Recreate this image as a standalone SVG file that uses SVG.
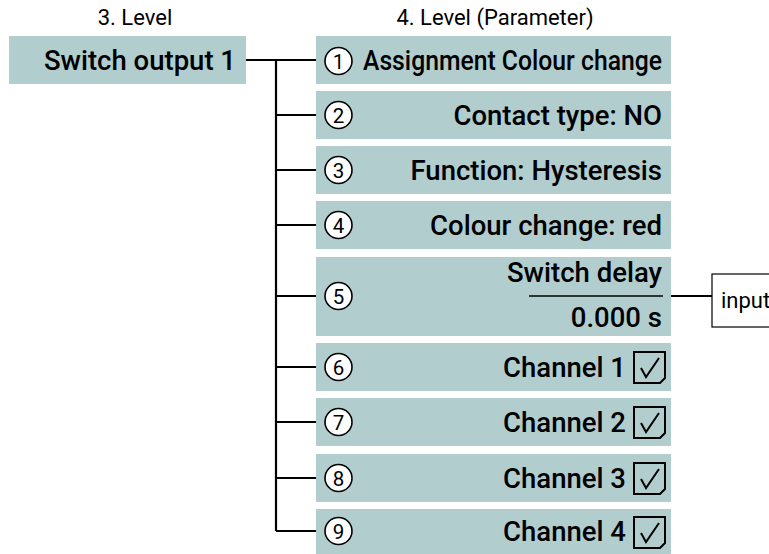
<svg xmlns="http://www.w3.org/2000/svg" width="769" height="554" viewBox="0 0 769 554">
<style>
.box{fill:#b1cdce}
.t{font-family:Roboto,"Liberation Sans",sans-serif;font-size:27.5px;font-weight:500;fill:#000}
.h{font-family:Roboto,"Liberation Sans",sans-serif;font-size:22px;fill:#000}
.n{font-family:Roboto,"Liberation Sans",sans-serif;font-size:20.5px;fill:#000;text-anchor:middle}
.c{fill:#fff;stroke:#000;stroke-width:1.6}
.ln{stroke:#000;stroke-width:2.2;fill:none}
.cb{fill:none;stroke:#000;stroke-width:2}
</style>
<defs>
<g id="chk">
<path class="cb" d="M0,0 H31 V26 L26,31 H0 Z"/>
<path class="cb" stroke-width="2.8" d="M7,16 L12,25 L25,6"/>
</g>
</defs>
<text class="h" x="135" y="25" text-anchor="middle">3. Level</text>
<text class="h" x="495" y="25" text-anchor="middle">4. Level (Parameter)</text>
<g id="connectors">
<path class="ln" d="M246,60 H316 M276,60 V531 M276,115 H316 M276,170 H316 M276,225 H316 M276,296 H316 M276,367 H316 M276,422 H316 M276,478 H316 M276,531 H316"/>
<path class="ln" d="M671,296 H712"/>
</g>
<g id="n0"><rect class="box" x="9" y="36" width="237" height="48"/><text class="t" x="236" y="70" text-anchor="end">Switch output 1</text></g>
<g id="n1"><rect class="box" x="316" y="36" width="355" height="48"/><circle class="c" cx="338.5" cy="61" r="13.5"/><text class="n" x="338.5" y="68.5">1</text><text class="t" x="662" y="70" text-anchor="end" textLength="299" lengthAdjust="spacingAndGlyphs">Assignment Colour change</text></g>
<g id="n2"><rect class="box" x="316" y="91" width="355" height="48"/><circle class="c" cx="338.5" cy="115" r="13.5"/><text class="n" x="338.5" y="122.5">2</text><text class="t" x="662" y="125" text-anchor="end">Contact type: NO</text></g>
<g id="n3"><rect class="box" x="316" y="146" width="355" height="48"/><circle class="c" cx="338.5" cy="170" r="13.5"/><text class="n" x="338.5" y="177.5">3</text><text class="t" x="662" y="180" text-anchor="end">Function: Hysteresis</text></g>
<g id="n4"><rect class="box" x="316" y="201" width="355" height="48"/><circle class="c" cx="338.5" cy="225" r="13.5"/><text class="n" x="338.5" y="232.5">4</text><text class="t" x="662" y="235" text-anchor="end">Colour change: red</text></g>
<g id="n5"><rect class="box" x="316" y="257" width="355" height="79"/><circle class="c" cx="338.5" cy="296" r="13.5"/><text class="n" x="338.5" y="303.5">5</text><text class="t" x="662" y="282" text-anchor="end">Switch delay</text><path d="M529,296 H663" stroke="#000" stroke-width="1.6"/><text class="t" x="662" y="327" text-anchor="end">0.000 s</text></g>
<g id="input"><rect x="712" y="274" width="70" height="53" fill="#fff" stroke="#000" stroke-width="1.2"/><text class="h" x="721" y="308" font-size="21">input</text></g>
<g id="n6"><rect class="box" x="316" y="343" width="355" height="48"/><circle class="c" cx="338.5" cy="367" r="13.5"/><text class="n" x="338.5" y="374.5">6</text><text class="t" x="626" y="377" text-anchor="end">Channel 1</text><use href="#chk" x="634" y="352"/></g>
<g id="n7"><rect class="box" x="316" y="398" width="355" height="48"/><circle class="c" cx="338.5" cy="422" r="13.5"/><text class="n" x="338.5" y="429.5">7</text><text class="t" x="626" y="432" text-anchor="end">Channel 2</text><use href="#chk" x="634" y="407"/></g>
<g id="n8"><rect class="box" x="316" y="454" width="355" height="48"/><circle class="c" cx="338.5" cy="478" r="13.5"/><text class="n" x="338.5" y="485.5">8</text><text class="t" x="626" y="488" text-anchor="end">Channel 3</text><use href="#chk" x="634" y="463"/></g>
<g id="n9"><rect class="box" x="316" y="509" width="355" height="48"/><circle class="c" cx="338.5" cy="531" r="13.5"/><text class="n" x="338.5" y="538.5">9</text><text class="t" x="626" y="541" text-anchor="end">Channel 4</text><use href="#chk" x="634" y="517"/></g>
</svg>
